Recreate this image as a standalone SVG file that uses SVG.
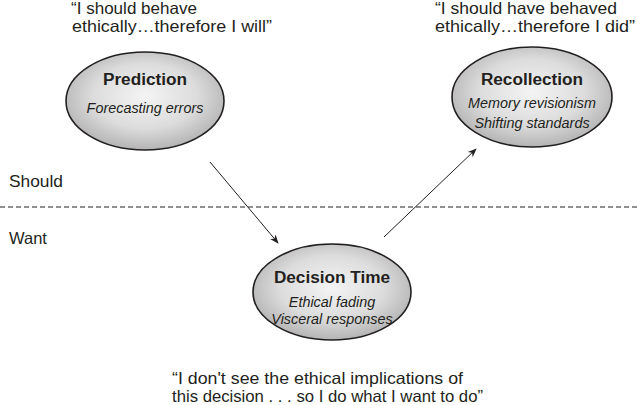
<svg xmlns="http://www.w3.org/2000/svg" width="637" height="405" viewBox="0 0 637 405">
<defs>
<radialGradient id="g" cx="50%" cy="45%" r="55%">
<stop offset="0" stop-color="#f4f4f4"/>
<stop offset="0.6" stop-color="#dcdcdc"/>
<stop offset="1" stop-color="#b4b4b4"/>
</radialGradient>
<marker id="ah" viewBox="0 0 10 10" refX="9" refY="5" markerWidth="9" markerHeight="9" markerUnits="userSpaceOnUse" orient="auto">
<path d="M0,1 L10,5 L0,9 L3,5 Z" fill="#231f20"/>
</marker>
</defs>
<style>
text{font-family:"Liberation Sans",Arial,sans-serif;fill:#231f20}
.q{font-size:16.5px}
.t{font-size:17.2px;font-weight:bold;text-anchor:middle}
.s{font-size:14.4px;font-style:italic;text-anchor:middle}
.e{fill:url(#g);stroke:#231f20;stroke-width:1.6}
.c{stroke:#231f20;stroke-width:1;fill:none}
</style>
<rect width="637" height="405" fill="#fff"/>
<text class="q" x="71" y="14" textLength="126" lengthAdjust="spacingAndGlyphs">“I should behave</text>
<text class="q" x="72" y="32" textLength="200" lengthAdjust="spacingAndGlyphs">ethically…therefore I will”</text>
<text class="q" x="435" y="14" textLength="182" lengthAdjust="spacingAndGlyphs">“I should have behaved</text>
<text class="q" x="435" y="32" textLength="200" lengthAdjust="spacingAndGlyphs">ethically…therefore I did”</text>
<text class="q" x="9" y="187" textLength="54" lengthAdjust="spacingAndGlyphs">Should</text>
<text class="q" x="9" y="244">Want</text>
<line x1="0" y1="207" x2="637" y2="207" stroke="#231f20" stroke-width="1" stroke-dasharray="5,3"/>
<g id="prediction">
<ellipse class="e" cx="145" cy="101" rx="79" ry="49"/>
<text class="t" x="145" y="85">Prediction</text>
<text class="s" x="145" y="113">Forecasting errors</text>
</g>
<g id="recollection">
<ellipse class="e" cx="532" cy="97" rx="80" ry="50"/>
<text class="t" x="532" y="85">Recollection</text>
<text class="s" x="532" y="108">Memory revisionism</text>
<text class="s" x="532" y="128">Shifting standards</text>
</g>
<g id="decision">
<ellipse class="e" cx="332" cy="292" rx="79" ry="48"/>
<text class="t" x="332" y="283">Decision Time</text>
<text class="s" x="332" y="307">Ethical fading</text>
<text class="s" x="332" y="324">Visceral responses</text>
</g>
<g id="connectors">
<line class="c" x1="210" y1="162" x2="278" y2="243" marker-end="url(#ah)"/>
<line class="c" x1="384" y1="237" x2="476" y2="149" marker-end="url(#ah)"/>
</g>
<text class="q" x="172" y="384" textLength="291" lengthAdjust="spacingAndGlyphs">“I don't see the ethical implications of</text>
<text class="q" x="172" y="402" textLength="311" lengthAdjust="spacingAndGlyphs">this decision . . . so I do what I want to do”</text>
</svg>
